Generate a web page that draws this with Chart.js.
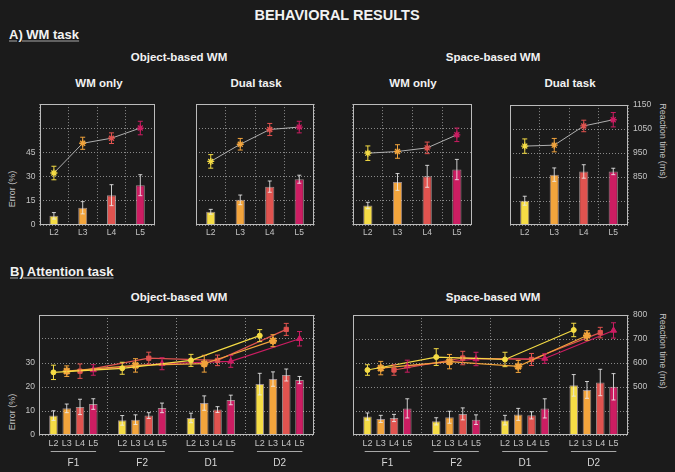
<!DOCTYPE html>
<html><head><meta charset="utf-8">
<script src="https://cdn.jsdelivr.net/npm/chart.js@4.4.1/dist/chart.umd.min.js"></script>
<style>
html,body{margin:0;padding:0;}
body{background:#1b1b1b;width:675px;height:472px;overflow:hidden;position:relative;font-family:"Liberation Sans",Arial,sans-serif;}
.t{position:absolute;color:#f2f2f2;font-weight:bold;white-space:nowrap;transform:translate(-50%,-50%);}
.h{position:absolute;color:#f2f2f2;font-weight:bold;white-space:nowrap;font-size:13px;text-decoration:underline;text-decoration-color:#a8a8a8;text-underline-offset:2px;transform:translateY(-50%);}
.ax{position:absolute;color:#c4c4c4;font-size:9px;white-space:nowrap;}
canvas{position:absolute;}
</style></head><body>
<div class="t" style="left:337px;top:15px;font-size:14.5px;">BEHAVIORAL RESULTS</div>
<div class="h" style="left:9px;top:34px;">A) WM task</div>
<div class="t" style="left:179px;top:57px;font-size:11.5px;">Object-based WM</div>
<div class="t" style="left:493px;top:57px;font-size:11.5px;">Space-based WM</div>
<div class="t" style="left:99px;top:83px;font-size:11.5px;">WM only</div>
<div class="t" style="left:256px;top:83px;font-size:11.5px;">Dual task</div>
<div class="t" style="left:413px;top:83px;font-size:11.5px;">WM only</div>
<div class="t" style="left:570px;top:83px;font-size:11.5px;">Dual task</div>
<div class="h" style="left:10px;top:271px;">B) Attention task</div>
<div class="t" style="left:179px;top:297px;font-size:11.5px;">Object-based WM</div>
<div class="t" style="left:493px;top:297px;font-size:11.5px;">Space-based WM</div>
<div class="ax" style="left:12px;top:189px;transform:translate(-50%,-50%) rotate(-90deg);">Error (%)</div>
<div class="ax" style="left:12px;top:412px;transform:translate(-50%,-50%) rotate(-90deg);">Error (%)</div>
<div class="ax" style="left:663px;top:141px;transform:translate(-50%,-50%) rotate(90deg);">Reaction time (ms)</div>
<div class="ax" style="left:663px;top:351px;transform:translate(-50%,-50%) rotate(90deg);">Reaction time (ms)</div>

<canvas id="c1" width="160" height="147" style="left:0px;top:95px;"></canvas>
<canvas id="c2" width="130" height="147" style="left:190px;top:95px;"></canvas>
<canvas id="c3" width="130" height="147" style="left:347px;top:95px;"></canvas>
<canvas id="c4" width="171" height="147" style="left:504px;top:95px;"></canvas>
<canvas id="c5" width="320" height="167" style="left:0px;top:305px;"></canvas>
<canvas id="c6" width="328" height="167" style="left:347px;top:305px;"></canvas>

<script>
// ---------- DATA ----------
const levels = ['L2', 'L3', 'L4', 'L5'];
const groups = ['F1', 'F2', 'D1', 'D2'];

// A) WM task: error (%) bars and reaction time (ms) lines, per load level
const objOnlyErr = [5.7, 10.7, 18.5, 24.7];
const objOnlyErrSem = [2.0, 3.8, 6.5, 6.5];
const objOnlyRT = [865, 988, 1009, 1051];
const objOnlyRTSem = [28, 25, 22, 28];

const objDualErr = [8.2, 15.6, 23.8, 28.4];
const objDualErrSem = [1.5, 3.0, 3.5, 2.5];
const objDualRT = [913, 984, 1045, 1055];
const objDualRTSem = [28, 24, 25, 24];

const spaOnlyErr = [12.1, 26.7, 30.2, 34.4];
const spaOnlyErrSem = [2.0, 5.2, 6.8, 6.3];
const spaOnlyRT = [947, 954, 969, 1023];
const spaOnlyRTSem = [30, 28, 24, 28];

const spaDualErr = [15.2, 31.5, 33.5, 33.5];
const spaDualErrSem = [2.8, 4.2, 4.2, 2.0];
const spaDualRT = [979, 983, 1063, 1089];
const spaDualRTSem = [30, 28, 24, 30];

// B) Attention task: rows = L2..L5, columns = F1, F2, D1, D2
const objAttErr = [
  [8.1, 6.1, 7.1, 21.2],
  [11.1, 6.4, 13.3, 23.3],
  [11.7, 8.1, 10.6, 25.0],
  [12.9, 11.3, 14.6, 22.9]];
const objAttErrSem = [
  [2.0, 2.0, 2.0, 4.5],
  [1.8, 2.0, 3.0, 3.0],
  [3.2, 1.2, 1.2, 2.5],
  [2.2, 2.0, 2.0, 1.5]];
const objAttRT = [
  [561, 578, 611, 714],
  [566, 590, 597, 693],
  [566, 620, 611, 740],
  [571, 597, 607, 701]];
const objAttRTSem = [
  [30, 25, 25, 25],
  [22, 28, 35, 25],
  [30, 25, 22, 25],
  [22, 25, 25, 30]];

const spaAttErr = [
  [7.7, 5.7, 6.2, 20.7],
  [6.7, 7.4, 8.6, 18.8],
  [7.1, 8.8, 8.2, 21.9],
  [11.1, 6.4, 11.1, 20.1]];
const spaAttErrSem = [
  [1.5, 1.5, 2.0, 4.5],
  [1.5, 2.5, 2.5, 3.5],
  [1.5, 2.5, 1.5, 5.5],
  [4.0, 2.0, 4.0, 5.5]];
const spaAttRT = [
  [571, 625, 615, 738],
  [579, 606, 586, 715],
  [571, 621, 615, 727],
  [587, 617, 619, 736]];
const spaAttRTSem = [
  [22, 35, 30, 28],
  [28, 30, 25, 20],
  [22, 28, 25, 22],
  [25, 28, 20, 32]];

// ---------- STYLE ----------
const levelColors = ['#f5dc45', '#f2a43c', '#e0534f', '#cc1d62'];
const levelPointStyles = ['circle', 'star', 'rect', 'triangle'];
const levelPointRadius = [2.5, 4, 3, 3.5];
const slot = 0.193;           // spacing of level bars inside a group (group units)
const gridCol = '#8a8a8a';
const tickCol = '#c4c4c4';

Chart.defaults.font.family = '"Liberation Sans", Arial, sans-serif';
Chart.defaults.color = tickCol;
Chart.defaults.animation = false;

const errorBars = {
  id: 'errorBars',
  afterDatasetsDraw(chart) {
    const ctx = chart.ctx;
    chart.data.datasets.forEach((ds, i) => {
      if (!ds.sem) return;
      const meta = chart.getDatasetMeta(i);
      const ys = chart.scales[ds.yAxisID];
      meta.data.forEach((el, j) => {
        const raw = ds.data[j];
        const v = (typeof raw === 'object') ? raw.y : raw;
        const s = ds.sem[j];
        const yt = ys.getPixelForValue(v + s), yb = ys.getPixelForValue(v - s);
        const cap = ds.capWidth || 2;
        ctx.save();
        ctx.setLineDash([]);
        ctx.strokeStyle = ds.errColor(j);
        ctx.lineWidth = 1;
        ctx.beginPath();
        ctx.moveTo(el.x, yt); ctx.lineTo(el.x, yb);
        ctx.moveTo(el.x - cap, yt); ctx.lineTo(el.x + cap, yt);
        ctx.moveTo(el.x - cap, yb); ctx.lineTo(el.x + cap, yb);
        ctx.stroke();
        ctx.restore();
      });
    });
  }
};

const frame = {
  id: 'frame',
  afterDraw(chart) {
    const a = chart.chartArea, ctx = chart.ctx;
    ctx.save();
    ctx.setLineDash([]);
    ctx.strokeStyle = '#bcbcbc';
    ctx.lineWidth = 1;
    ctx.strokeRect(Math.round(a.left) + 0.5, Math.round(a.top) + 0.5, Math.round(a.right - a.left) - 1, Math.round(a.bottom - a.top) - 1);
    if (chart.options.groupUnderline) {
      const xs = chart.scales.x;
      ctx.strokeStyle = '#a8a8a8';
      ctx.beginPath();
      groups.forEach((g, gi) => {
        const y = Math.round(a.bottom) + 16.5;
        ctx.moveTo(xs.getPixelForValue(gi - 0.33), y);
        ctx.lineTo(xs.getPixelForValue(gi + 0.33), y);
      });
      ctx.stroke();
    }
    ctx.restore();
  }
};

function panelA(id, err, errSem, rt, rtSem, o) {
  new Chart(document.getElementById(id), {
    type: 'bar',
    data: {
      labels: levels,
      datasets: [
        {
          type: 'line', data: rt, sem: rtSem, yAxisID: 'y2', xAxisID: 'x', order: 0,
          borderColor: '#b0b0b0', borderWidth: 1,
          pointStyle: 'star', pointRadius: 3.5, pointBorderWidth: 1.3,
          pointBorderColor: levelColors, pointBackgroundColor: levelColors,
          capWidth: 2.5, errColor: j => levelColors[j]
        },
        {
          type: 'bar', data: err, sem: errSem, yAxisID: 'y', xAxisID: 'x', order: 1,
          backgroundColor: levelColors, borderColor: 'rgba(255,225,225,0.55)', borderWidth: 1,
          categoryPercentage: 0.8, barPercentage: 0.39,
          capWidth: 2, errColor: () => 'rgba(235,235,235,0.85)'
        }
      ]
    },
    options: {
      responsive: false, animation: false,
      layout: { padding: { top: 9, right: o.padR, left: 0, bottom: 0 } },
      plugins: { legend: { display: false }, tooltip: { enabled: false } },
      scales: {
        x: {
          type: 'category', offset: true,
          grid: { offset: true, color: gridCol, drawTicks: false },
          border: { display: false, dash: [1, 2] },
          ticks: { padding: 3, font: { size: 8.5 }, color: tickCol },
          afterFit: s => { s.height = 17; }
        },
        y: {
          position: 'left', min: 0, max: 75,
          grid: { color: gridCol, drawTicks: false },
          border: { display: false, dash: [1, 2] },
          ticks: { stepSize: 15, padding: 4, font: { size: 8.5 }, color: tickCol,
                   callback: v => (o.left && v <= 45) ? v : '' },
          afterFit: s => { s.width = o.leftW; }
        },
        y2: {
          position: 'right', min: 650, max: 1150, display: o.right,
          grid: { drawOnChartArea: false, drawTicks: false },
          border: { display: false },
          ticks: { stepSize: 100, padding: 5, font: { size: 8.5 }, color: tickCol,
                   callback: v => v >= 850 ? v : '' },
          afterFit: s => { s.width = o.right ? 47 : 0; }
        }
      }
    },
    plugins: [errorBars, frame]
  });
}

panelA('c1', objOnlyErr, objOnlyErrSem, objOnlyRT, objOnlyRTSem, { left: true, right: false, leftW: 39.5, padR: 4 });
panelA('c2', objDualErr, objDualErrSem, objDualRT, objDualRTSem, { left: false, right: false, leftW: 6, padR: 6 });
panelA('c3', spaOnlyErr, spaOnlyErrSem, spaOnlyRT, spaOnlyRTSem, { left: false, right: false, leftW: 6, padR: 5 });
panelA('c4', spaDualErr, spaDualErrSem, spaDualRT, spaDualRTSem, { left: false, right: true, leftW: 6, padR: 0 });

function panelB(id, err, errSem, rt, rtSem, o) {
  const pos = (g, l) => g + (l - 1.5) * slot;
  const barData = [], barSem = [], barCol = [], tickPos = [], tickLab = [];
  groups.forEach((g, gi) => levels.forEach((lv, li) => {
    barData.push({ x: pos(gi, li), y: err[li][gi] });
    barSem.push(errSem[li][gi]);
    barCol.push(levelColors[li]);
    tickPos.push(pos(gi, li));
    tickLab.push(lv);
  }));
  const lineSets = levels.map((lv, li) => ({
    type: 'line', yAxisID: 'y2', xAxisID: 'x', order: 0,
    data: groups.map((g, gi) => ({ x: pos(gi, li), y: rt[li][gi] })),
    sem: rtSem[li],
    borderColor: levelColors[li], borderWidth: 1.2,
    pointStyle: levelPointStyles[li], pointRadius: levelPointRadius[li],
    pointBackgroundColor: levelColors[li], pointBorderColor: levelColors[li], pointBorderWidth: li === 1 ? 2 : 1,
    capWidth: 2.5, errColor: () => levelColors[li]
  }));
  new Chart(document.getElementById(id), {
    type: 'bar',
    data: {
      datasets: [
        ...lineSets,
        {
          type: 'bar', yAxisID: 'y', xAxisID: 'x', order: 1,
          data: barData, sem: barSem,
          backgroundColor: barCol, borderColor: 'rgba(255,225,225,0.55)', borderWidth: 1,
          categoryPercentage: 1, barPercentage: 0.65,
          capWidth: 2, errColor: () => 'rgba(235,235,235,0.85)'
        }
      ]
    },
    options: {
      responsive: false, animation: false,
      groupUnderline: true,
      layout: { padding: { top: 10, right: o.padR, left: 0, bottom: 0 } },
      plugins: { legend: { display: false }, tooltip: { enabled: false } },
      scales: {
        x: {
          type: 'linear', position: 'bottom', min: -0.5, max: 3.5, offset: false, weight: 0,
          grid: { display: true, drawOnChartArea: false, drawTicks: false, offset: false },
          border: { display: false },
          afterBuildTicks: s => { s.ticks = tickPos.map(v => ({ value: v })); },
          ticks: { display: true, autoSkip: false, maxRotation: 0, minRotation: 0, padding: 3,
                   font: { size: 9 }, color: tickCol,
                   callback: (v, i) => tickLab[i] },
          afterFit: s => { s.height = 14; }
        },
        xg: {
          type: 'category', axis: 'x', position: 'bottom', labels: groups, offset: true, weight: 1,
          grid: { offset: true, color: gridCol, drawTicks: false },
          border: { display: false, dash: [1, 2] },
          ticks: { padding: 8, font: { size: 10 }, color: '#d8d8d8' },
          afterFit: s => { s.height = 23; }
        },
        y: {
          position: 'left', min: 0, max: 50,
          grid: { color: gridCol, drawTicks: false },
          border: { display: false, dash: [1, 2] },
          ticks: { stepSize: 10, padding: 4, font: { size: 8.5 }, color: tickCol,
                   callback: v => (o.left && v <= 30) ? v : '' },
          afterFit: s => { s.width = o.leftW; }
        },
        y2: {
          position: 'right', min: 300, max: 800, display: o.right,
          grid: { drawOnChartArea: false, drawTicks: false },
          border: { display: false },
          ticks: { stepSize: 100, padding: 5, font: { size: 8.5 }, color: tickCol,
                   callback: v => v >= 500 ? v : '' },
          afterFit: s => { s.width = o.right ? 47 : 0; }
        }
      }
    },
    plugins: [errorBars, frame]
  });
}

panelB('c5', objAttErr, objAttErrSem, objAttRT, objAttRTSem, { left: true, right: false, leftW: 39, padR: 4 });
panelB('c6', spaAttErr, spaAttErrSem, spaAttRT, spaAttRTSem, { left: false, right: true, leftW: 6, padR: 0 });
</script>
</body></html>
